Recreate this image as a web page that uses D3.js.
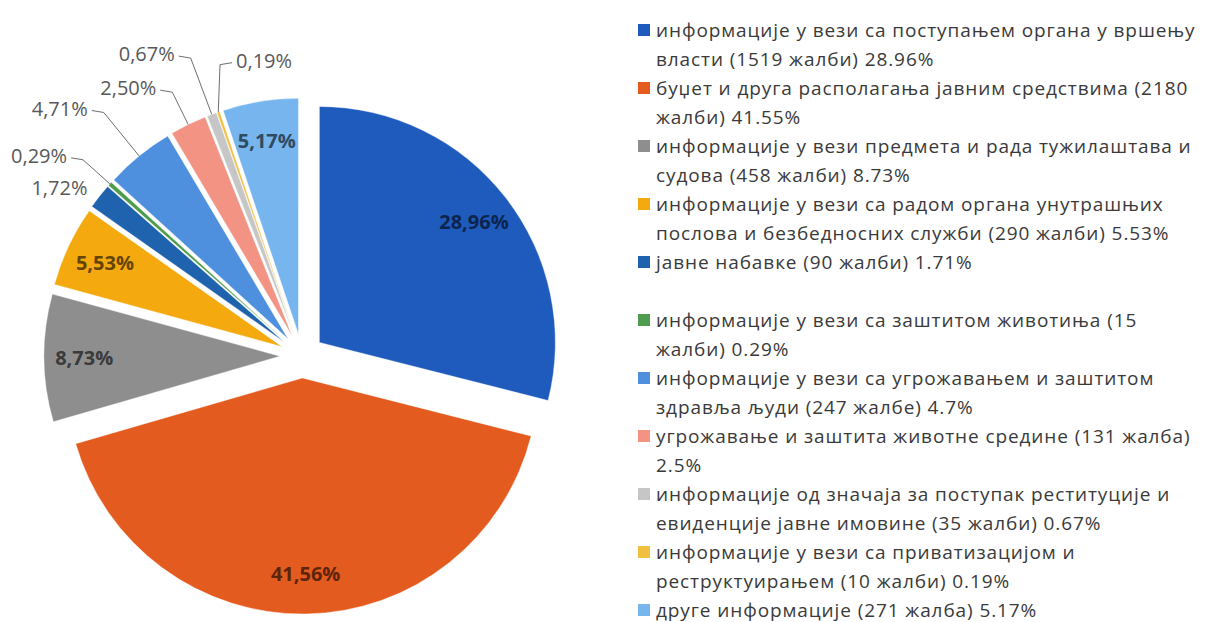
<!DOCTYPE html>
<html>
<head>
<meta charset="utf-8">
<script src="https://cdn.jsdelivr.net/npm/d3@7"></script>
<style>
  body { margin: 0; background: #fff; }
  svg { display: block; }
</style>
</head>
<body>
<svg id="chart"></svg>
<script>
// complaints per category (number of appeals)
var complaints = [1519, 2180, 458, 290, 90, 15, 247, 131, 35, 10, 271];

// legend text, already wrapped as in the original
var legendLines = [
  ["информације у вези са поступањем органа у вршењу", "власти (1519 жалби) 28.96%"],
  ["буџет и друга располагања јавним средствима (2180", "жалби) 41.55%"],
  ["информације у вези предмета и рада тужилаштава и", "судова (458 жалби) 8.73%"],
  ["информације у вези са радом органа унутрашњих", "послова и безбедносних служби (290 жалби) 5.53%"],
  ["јавне набавке (90 жалби) 1.71%"],
  ["информације у вези са заштитом животиња (15", "жалби) 0.29%"],
  ["информације у вези са угрожавањем и заштитом", "здравља људи (247 жалбе) 4.7%"],
  ["угрожавање и заштита животне средине (131 жалба)", "2.5%"],
  ["информације од значаја за поступак реституције и", "евиденције јавне имовине (35 жалби) 0.67%"],
  ["информације у вези са приватизацијом и", "реструктуирањем (10 жалби) 0.19%"],
  ["друге информације (271 жалба) 5.17%"]
];

var colors = ["#1f5bbd", "#e35b1e", "#8e8e8e", "#f4a90f", "#1f62ad", "#4e9c4e",
              "#4f90de", "#f39383", "#c6c6c6", "#f2c040", "#76b5ee"];

// callout layout for the small slices (extra radial length, sideways nudge, side of the text)
var calloutExt = [0, 36, 56, 36, 60, 50];
var calloutDx = [0, 0, 0, 0, 0, 18];
var calloutSide = [-1, -1, -1, -1, -1, 1];

var width = 1205, height = 622;
var radius = 236, explode = 22;
var cx = 302, cy = 356;

var svg = d3.select("#chart")
  .attr("width", width)
  .attr("height", height);

var total = d3.sum(complaints);
var pie = d3.pie().sort(null).value(function(d) { return d; });
var arcs = pie(complaints);
var arc = d3.arc().innerRadius(0).outerRadius(radius);

function mid(d) { return (d.startAngle + d.endAngle) / 2; }
function pt(a, r) { return [Math.sin(a) * r, -Math.cos(a) * r]; }
function fmt(v) { return (v / total * 100).toFixed(2).replace(".", ",") + "%"; }

var g = svg.append("g").attr("transform", "translate(" + cx + "," + cy + ")");

var slices = g.selectAll("g.slice")
  .data(arcs)
  .enter().append("g")
  .attr("class", "slice")
  .attr("transform", function(d) {
    var p = pt(mid(d), explode);
    return "translate(" + p[0] + "," + p[1] + ")";
  });

slices.append("path")
  .attr("d", arc)
  .attr("fill", function(d, i) { return colors[i]; })
  .attr("stroke", "#fff")
  .attr("stroke-width", 0.7)
  .attr("stroke-opacity", 0.6);

// labels inside the bigger slices
var inner = arcs.filter(function(d) { return d.data / total >= 0.05; });
g.selectAll("text.inlab")
  .data(inner)
  .enter().append("text")
  .attr("class", "inlab")
  .attr("x", function(d) { return pt(mid(d), explode + radius * 0.83)[0]; })
  .attr("y", function(d) { return pt(mid(d), explode + radius * 0.83)[1]; })
  .attr("dy", "0.35em")
  .attr("text-anchor", "middle")
  .style("font-family", "'Open Sans', sans-serif")
  .style("font-size", "20px")
  .style("font-weight", "bold")
  .style("fill", function(d) { return d3.color(colors[d.index]).darker(2.5); })
  .text(function(d) { return fmt(d.data); });

// callouts for the small slices
var outer = arcs.filter(function(d) { return d.data / total < 0.05; });
outer.forEach(function(d, j) {
  var a = mid(d);
  var p0 = pt(a, explode + radius);
  var ext = calloutExt[j], side = calloutSide[j];
  var tx, ty;
  if (ext === 0) {
    tx = p0[0] - 12; ty = p0[1] - 8;
  } else {
    var p1 = pt(a, explode + radius + ext);
    p1[0] += calloutDx[j];
    var p2 = [p1[0] + side * 12, p1[1] - 2];
    g.append("polyline")
      .attr("points", [p0, p1, p2].map(function(p) { return p.join(","); }).join(" "))
      .attr("fill", "none")
      .attr("stroke", "#6f6f6f")
      .attr("stroke-width", 1);
    tx = p2[0] + side * 4; ty = p2[1] - 2;
  }
  g.append("text")
    .attr("x", tx)
    .attr("y", ty)
    .attr("dy", "0.35em")
    .attr("text-anchor", side < 0 ? "end" : "start")
    .style("font-family", "'Open Sans', sans-serif")
    .style("font-size", "20px")
    .style("fill", "#595959")
    .text(fmt(d.data));
});

// legend
var legend = svg.append("g").attr("class", "legend");
var rowH = 29, top0 = 30, breakAfter = 4;
var row = 0;
legendLines.forEach(function(lines, i) {
  var y0 = top0 + row * rowH;
  legend.append("rect")
    .attr("x", 638)
    .attr("y", y0 - 6)
    .attr("width", 12)
    .attr("height", 12)
    .attr("fill", colors[i]);
  lines.forEach(function(t, k) {
    legend.append("text")
      .attr("x", 656)
      .attr("y", y0 + k * rowH)
      .attr("dy", "0.35em")
      .style("font-family", "'Open Sans', sans-serif")
      .style("font-size", "19px")
      .style("letter-spacing", "0.9px")
      .style("fill", "#3a3a3a")
      .text(t);
  });
  row += lines.length;
  if (i === breakAfter) row += 1;
});
</script>
</body>
</html>
